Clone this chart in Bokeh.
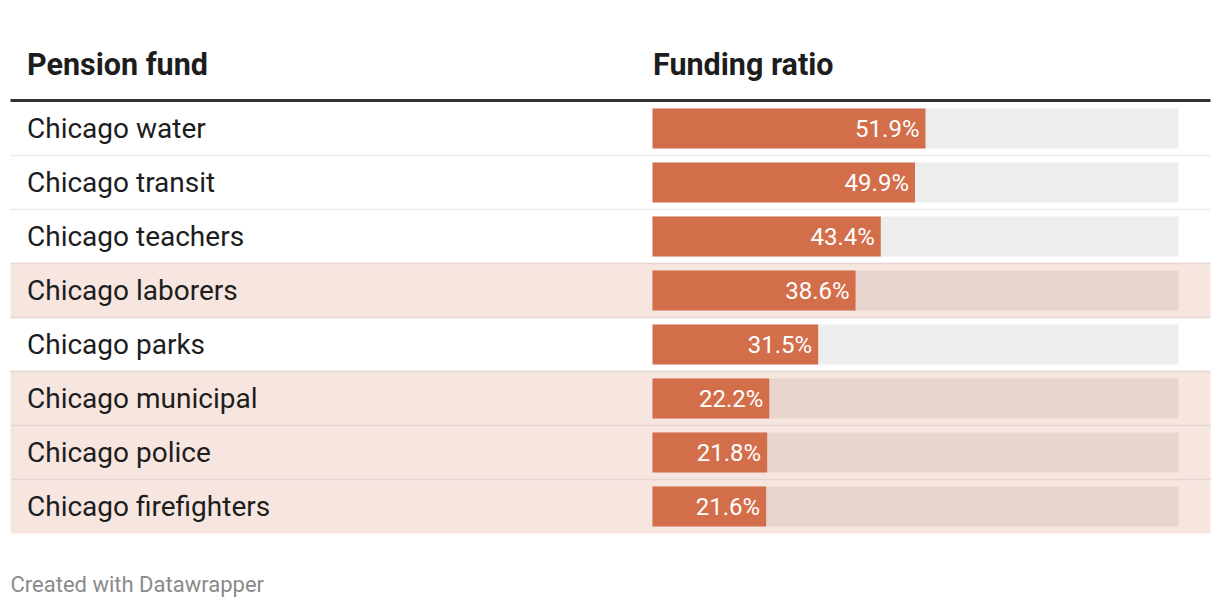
from bokeh.plotting import figure
from bokeh.models import Range1d, ColumnDataSource
from bokeh.core.properties import value
from bokeh.embed import file_html
from bokeh.resources import INLINE

# ---- data ----
funds = ["Chicago water", "Chicago transit", "Chicago teachers", "Chicago laborers",
         "Chicago parks", "Chicago municipal", "Chicago police", "Chicago firefighters"]
ratios = [51.9, 49.9, 43.4, 38.6, 31.5, 22.2, 21.8, 21.6]
highlight = [False, False, False, True, False, True, True, True]
col_headers = ["Pension fund", "Funding ratio"]
footer = "Created with Datawrapper"
scale_max = 100.0

# ---- layout (page pixels -> data units) ----
W, H = 1214, 600
PX_PER_PCT = 5.26      # bar track 526px wide for 100%
BAR_X0 = 652           # page px where bars start
ROW_H = 54             # px per row
ROW0_C = 128           # page px of first row centre
OFF = 0                # page px of figure's top-left

def xd(px):
    return (px - BAR_X0) / PX_PER_PCT

def yd(py):
    return (py - ROW0_C) / ROW_H

FONT = "Roboto"
BAR_COL = "#d36e4b"
TRACK_W = "#ededed"
TRACK_P = "#e7d5ce"
PINK = "#f7e5df"
PINK_LINE = "#e8d5cf"
GRAY_LINE = "#ececec"

p = figure(width=W, height=H, output_backend="svg", toolbar_location=None,
           x_range=Range1d(xd(OFF), xd(OFF + W)), y_range=Range1d(yd(OFF + H), yd(OFF)),
           min_border=0, outline_line_color=None, background_fill_color="white",
           border_fill_color="white")
p.axis.visible = False
p.grid.visible = False

n = len(funds)
rows = list(range(n))
left_all, right_all = xd(10), xd(1210)

# row backgrounds
pink_rows = [i for i in rows if highlight[i]]
p.quad(left=left_all, right=right_all, top=[i - 0.5 for i in pink_rows],
       bottom=[i + 0.5 for i in pink_rows], fill_color=PINK, line_color=None)

# separator lines
p.segment(x0=left_all, x1=right_all, y0=[i + 0.5 for i in rows[:-1]],
          y1=[i + 0.5 for i in rows[:-1]], line_color=GRAY_LINE, line_width=1.5)
pb = sorted(set([i - 0.5 for i in pink_rows if i > 0] + [i + 0.5 for i in pink_rows if i < n - 1]))
p.segment(x0=left_all, x1=right_all, y0=pb, y1=pb, line_color=PINK_LINE, line_width=1.5)

# header rule
p.segment(x0=left_all, x1=right_all, y0=yd(100), y1=yd(100), line_color="#333333", line_width=3)

# tracks & bars
bh = 40 / ROW_H
src = ColumnDataSource(dict(
    y=rows, v=ratios,
    track=[TRACK_P if h else TRACK_W for h in highlight],
    lab=[f"{r:.1f}%" for r in ratios],
    name=funds,
))
p.hbar(y="y", left=0, right=scale_max, height=bh, fill_color="track", line_color=None, source=src)
p.hbar(y="y", left=0, right="v", height=bh, fill_color=BAR_COL, line_color=None, source=src)

# value labels
src.data["vx"] = [r - 6 / PX_PER_PCT for r in ratios]
p.text(x="vx", y="y", text="lab", source=src, text_align="right", text_baseline="middle",
       text_color="white", text_font=value(FONT), text_font_size="24px")

# fund names
p.text(x=xd(26.5), y="y", text="name", source=src, text_align="left", text_baseline="middle",
       text_color="#1d1d1d", text_font=value(FONT), text_font_size="28px")

# headers
p.text(x=[xd(26.5), xd(652.5)], y=[yd(64), yd(64)], text=col_headers, text_align="left",
       text_baseline="middle", text_color="#1d1d1d", text_font=value(FONT),
       text_font_size="30.5px", text_font_style="bold")

# footer
p.text(x=[xd(10)], y=[yd(584)], text=[footer], text_align="left", text_baseline="middle",
       text_color="#8a8a8a", text_font=value(FONT), text_font_size="22px")

open("out.html", "w").write(file_html(p, INLINE))
